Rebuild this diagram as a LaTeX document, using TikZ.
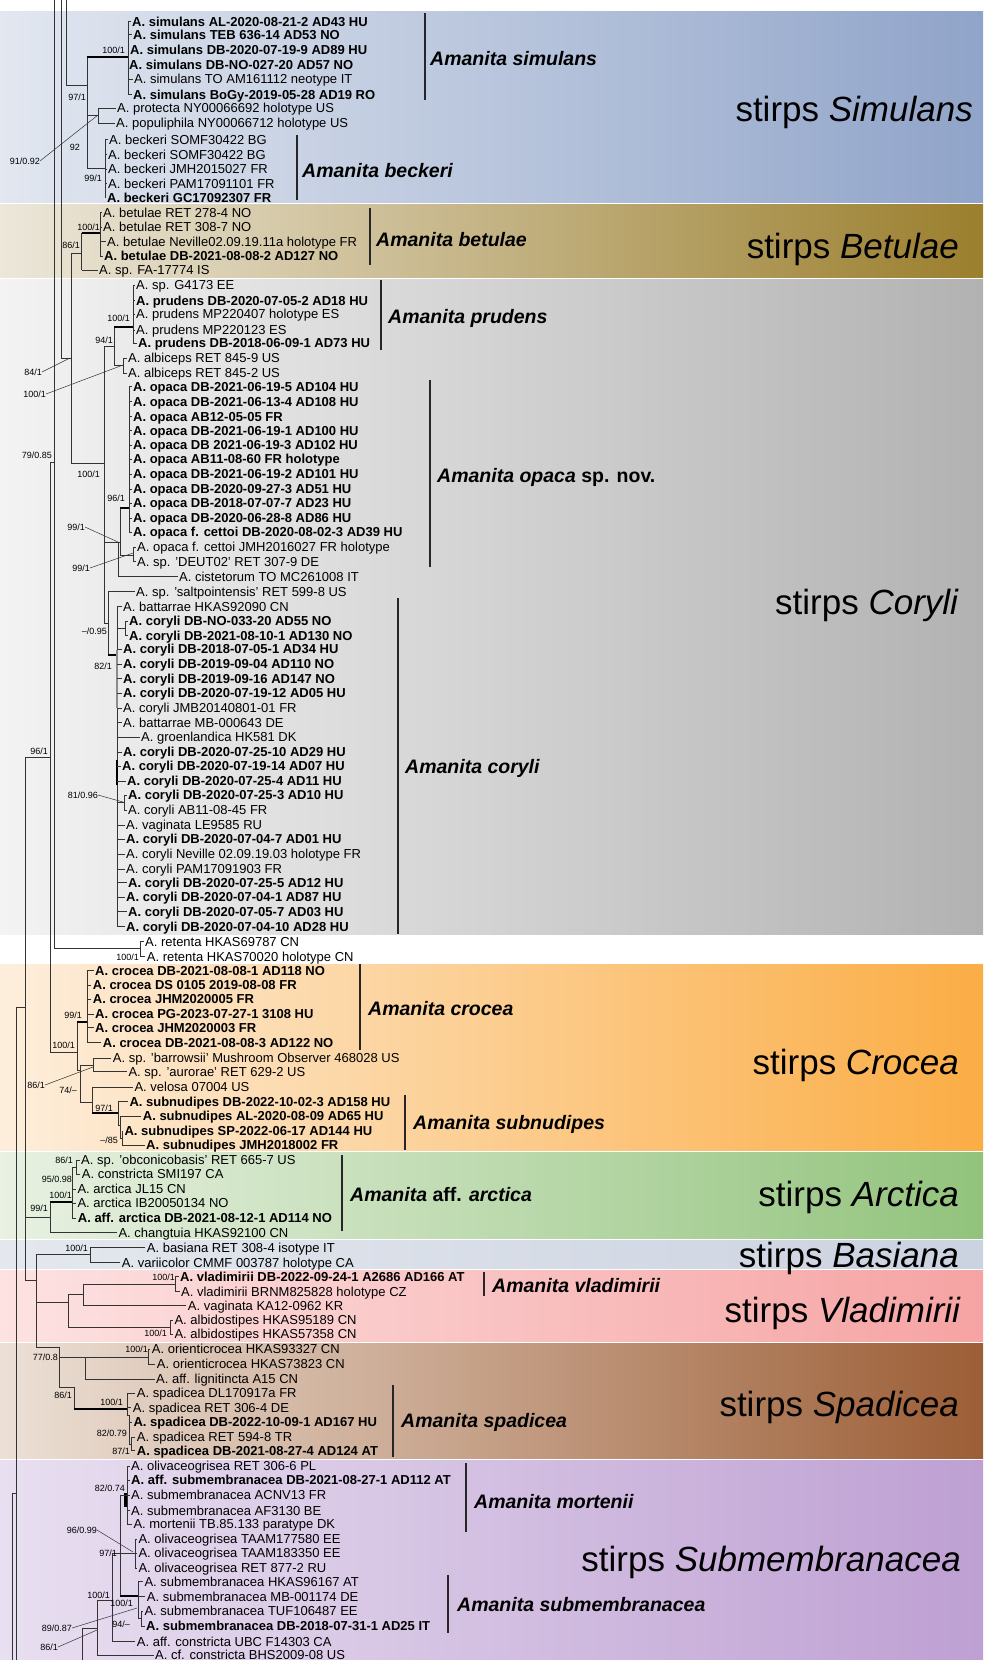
\documentclass[tikz,border=0pt]{standalone}
\usepackage{fontspec}
\setmainfont{Liberation Sans}
\usetikzlibrary{positioning}
\definecolor{simL}{RGB}{226,231,240}\definecolor{simR}{RGB}{144,164,201}
\definecolor{betL}{RGB}{236,231,218}\definecolor{betR}{RGB}{155,127,46}
\definecolor{corL}{RGB}{243,243,243}\definecolor{corR}{RGB}{178,178,178}
\definecolor{croL}{RGB}{253,238,220}\definecolor{croR}{RGB}{251,173,69}
\definecolor{arcL}{RGB}{232,241,226}\definecolor{arcR}{RGB}{146,195,124}
\definecolor{basL}{RGB}{228,232,238}\definecolor{basR}{RGB}{203,210,224}
\definecolor{vlaL}{RGB}{253,226,226}\definecolor{vlaR}{RGB}{246,163,163}
\definecolor{spaL}{RGB}{236,224,214}\definecolor{spaR}{RGB}{156,94,54}
\definecolor{subL}{RGB}{232,223,240}\definecolor{subR}{RGB}{190,160,211}
\newcommand\tipfont{\fontsize{13}{15}\selectfont}
\newcommand\bsfont{\fontsize{9}{10}\selectfont}
\newcommand\cladefont{\fontsize{19.5}{22}\selectfont\bfseries\itshape}
\newcommand\stirpsfont{\fontsize{35}{40}\selectfont}
% tip branch from a clade line to a taxon label
\newcommand\twig[2]{\draw[br] (#2.west) ++(-1.5,0) -- (#2.west -| #1);}

\begin{document}
\begin{tikzpicture}[x=1pt,y=-1pt,
  tp/.style={anchor=west, inner xsep=0pt, inner ysep=0pt, text height=10pt, text depth=1pt, font=\tipfont},
  tb/.style={tp, font=\tipfont\bfseries},
  bs/.style={anchor=east, inner sep=0pt, font=\bsfont},
  clade/.style={anchor=west, inner sep=0pt, font=\cladefont},
  stirps/.style={anchor=east, inner sep=0pt, text height=25pt, text depth=7pt, font=\stirpsfont},
  br/.style={line width=0.75pt, black!80},
  thk/.style={line width=2.6pt, black},
  bar/.style={line width=1.4pt, black!85},
  ldr/.style={line width=0.5pt, black!80}]
\useasboundingbox (0,0) rectangle (983,1660);

% colour bands
\shade[left color=simL, right color=simR] (0,11) rectangle (983,202);
\shade[left color=betL, right color=betR] (0,204) rectangle (983,277);
\shade[left color=corL, right color=corR] (0,279) rectangle (983,934);
\shade[left color=croL, right color=croR] (0,964) rectangle (983,1150);
\shade[left color=arcL, right color=arcR] (0,1152) rectangle (983,1238);
\shade[left color=basL, right color=basR] (0,1240) rectangle (983,1268);
\shade[left color=vlaL, right color=vlaR] (0,1270) rectangle (983,1341);
\shade[left color=spaL, right color=spaR] (0,1343) rectangle (983,1458);
\shade[left color=subL, right color=subR] (0,1460) rectangle (983,1660);

% stirps names
\node[stirps] (stSim) at (973,112) {stirps \textit{Simulans}};
\node[stirps] (stBet) at (959,249) {stirps \textit{Betulae}};
\node[stirps] (stCor) at (959,605) {stirps \textit{Coryli}};
\node[stirps] (stCro) at (959,1065) {stirps \textit{Crocea}};
\node[stirps] (stArc) at (959,1197) {stirps \textit{Arctica}};
\node[stirps] (stBas) at (959,1258) {stirps \textit{Basiana}};
\node[stirps] (stVla) at (961,1313) {stirps \textit{Vladimirii}};
\node[stirps] (stSpa) at (959,1407) {stirps \textit{Spadicea}};
\node[stirps] (stSub) at (961,1562) {stirps \textit{Submembranacea}};

% taxa: stirps Simulans
\node[tb] (sim1) at (132,21.7) {A. simulans AL-2020-08-21-2 AD43 HU};
\node[tb] (sim2) at (133,34.7) {A. simulans TEB 636-14 AD53 NO};
\node[tb] (sim3) at (130,50) {A. simulans DB-2020-07-19-9 AD89 HU};
\node[tb] (sim4) at (129,64.7) {A. simulans DB-NO-027-20 AD57 NO};
\node[tp] (sim5) at (134,79.3) {A. simulans TO AM161112 neotype IT};
\node[tb] (sim6) at (133,94.7) {A. simulans BoGy-2019-05-28 AD19 RO};
\node[tp] (pro) at (117,108.3) {A. protecta NY00066692 holotype US};
\node[tp] (pop) at (116,123.3) {A. populiphila NY00066712 holotype US};
\node[tp] (bec1) at (109,139.5) {A. beckeri SOMF30422 BG};
\node[tp] (bec2) at (108,154.5) {A. beckeri SOMF30422 BG};
\node[tp] (bec3) at (108,169) {A. beckeri JMH2015027 FR};
\node[tp] (bec4) at (108,183.5) {A. beckeri PAM17091101 FR};
\node[tb] (bec5) at (107,197.7) {A. beckeri GC17092307 FR};
% stirps Betulae
\node[tp] (bet1) at (103,212.7) {A. betulae RET 278-4 NO};
\node[tp] (bet2) at (103,227.3) {A. betulae RET 308-7 NO};
\node[tp] (bet3) at (107,241.7) {A. betulae Neville02.09.19.11a holotype FR};
\node[tb] (bet4) at (104,256) {A. betulae DB-2021-08-08-2 AD127 NO};
\node[tp] (fa) at (99,270) {A. sp. FA-17774 IS};
% stirps Coryli
\node[tp] (g41) at (136,285) {A. sp. G4173 EE};
\node[tb] (pru1) at (136,300.7) {A. prudens DB-2020-07-05-2 AD18 HU};
\node[tp] (pru2) at (136,314.3) {A. prudens MP220407 holotype ES};
\node[tp] (pru3) at (136,330) {A. prudens MP220123 ES};
\node[tb] (pru4) at (138,343.3) {A. prudens DB-2018-06-09-1 AD73 HU};
\node[tp] (alb1) at (128,358.3) {A. albiceps RET 845-9 US};
\node[tp] (alb2) at (128,373.3) {A. albiceps RET 845-2 US};
\node[tb] (opa1) at (133,386.7) {A. opaca DB-2021-06-19-5 AD104 HU};
\node[tb] (opa2) at (133,401.7) {A. opaca DB-2021-06-13-4 AD108 HU};
\node[tb] (opa3) at (133,416.7) {A. opaca AB12-05-05 FR};
\node[tb] (opa4) at (133,430.7) {A. opaca DB-2021-06-19-1 AD100 HU};
\node[tb] (opa5) at (133,445) {A. opaca DB 2021-06-19-3 AD102 HU};
\node[tb] (opa6) at (133,459.3) {A. opaca AB11-08-60 FR holotype};
\node[tb] (opa7) at (133,474.3) {A. opaca DB-2021-06-19-2 AD101 HU};
\node[tb] (opa8) at (133,489) {A. opaca DB-2020-09-27-3 AD51 HU};
\node[tb] (opa9) at (133,503.3) {A. opaca DB-2018-07-07-7 AD23 HU};
\node[tb] (opa10) at (133,518.3) {A. opaca DB-2020-06-28-8 AD86 HU};
\node[tb] (opa11) at (133,532.3) {A. opaca f. cettoi DB-2020-08-02-3 AD39 HU};
\node[tp] (opa12) at (137,547.3) {A. opaca f. cettoi JMH2016027 FR holotype};
\node[tp] (deut) at (137,561.7) {A. sp. 'DEUT02' RET 307-9 DE};
\node[tp] (cis) at (179,576.7) {A. cistetorum TO MC261008 IT};
\node[tp] (salt) at (136,591.7) {A. sp. 'saltpointensis' RET 599-8 US};
\node[tp] (bat1) at (123,606.7) {A. battarrae HKAS92090 CN};
\node[tb] (cor1) at (129,621) {A. coryli DB-NO-033-20 AD55 NO};
\node[tb] (cor2) at (129,635.7) {A. coryli DB-2021-08-10-1 AD130 NO};
\node[tb] (cor3) at (123,649.3) {A. coryli DB-2018-07-05-1 AD34 HU};
\node[tb] (cor4) at (123,664.3) {A. coryli DB-2019-09-04 AD110 NO};
\node[tb] (cor5) at (123,678.5) {A. coryli DB-2019-09-16 AD147 NO};
\node[tb] (cor6) at (123,693.3) {A. coryli DB-2020-07-19-12 AD05 HU};
\node[tp] (cor7) at (123,708.3) {A. coryli JMB20140801-01 FR};
\node[tp] (bat2) at (123,722.7) {A. battarrae MB-000643 DE};
\node[tp] (grl) at (141,737.3) {A. groenlandica HK581 DK};
\node[tb] (cor8) at (123,752.3) {A. coryli DB-2020-07-25-10 AD29 HU};
\node[tb] (cor9) at (122,766) {A. coryli DB-2020-07-19-14 AD07 HU};
\node[tb] (cor10) at (127,781) {A. coryli DB-2020-07-25-4 AD11 HU};
\node[tb] (cor11) at (128,795) {A. coryli DB-2020-07-25-3 AD10 HU};
\node[tp] (cor12) at (128,810) {A. coryli AB11-08-45 FR};
\node[tp] (vag1) at (126,825) {A. vaginata LE9585 RU};
\node[tb] (cor13) at (126,839.3) {A. coryli DB-2020-07-04-7 AD01 HU};
\node[tp] (cor14) at (126,854) {A. coryli Neville 02.09.19.03 holotype FR};
\node[tp] (cor15) at (126,869) {A. coryli PAM17091903 FR};
\node[tb] (cor16) at (128,882.7) {A. coryli DB-2020-07-25-5 AD12 HU};
\node[tb] (cor17) at (126,897.3) {A. coryli DB-2020-07-04-1 AD87 HU};
\node[tb] (cor18) at (128,911.7) {A. coryli DB-2020-07-05-7 AD03 HU};
\node[tb] (cor19) at (126,926.7) {A. coryli DB-2020-07-04-10 AD28 HU};
\node[tp] (ret1) at (145,941.7) {A. retenta HKAS69787 CN};
\node[tp] (ret2) at (146.7,956.7) {A. retenta HKAS70020 holotype CN};
% stirps Crocea
\node[tb] (cro1) at (95,970.7) {A. crocea DB-2021-08-08-1 AD118 NO};
\node[tb] (cro2) at (92.7,985) {A. crocea DS 0105 2019-08-08 FR};
\node[tb] (cro3) at (92.7,999.3) {A. crocea JHM2020005 FR};
\node[tb] (cro4) at (95,1014.3) {A. crocea PG-2023-07-27-1 3108 HU};
\node[tb] (cro5) at (95,1027.7) {A. crocea JHM2020003 FR};
\node[tb] (cro6) at (102.7,1042.7) {A. crocea DB-2021-08-08-3 AD122 NO};
\node[tp] (barr) at (112.7,1058.3) {A. sp. 'barrowsii' Mushroom Observer 468028 US};
\node[tp] (aur) at (128.3,1071.7) {A. sp. 'aurorae' RET 629-2 US};
\node[tp] (vel) at (134.3,1087.3) {A. velosa 07004 US};
\node[tb] (sub1) at (129.3,1101.7) {A. subnudipes DB-2022-10-02-3 AD158 HU};
\node[tb] (sub2) at (142.7,1116) {A. subnudipes AL-2020-08-09 AD65 HU};
\node[tb] (sub3) at (124.3,1131) {A. subnudipes SP-2022-06-17 AD144 HU};
\node[tb] (sub4) at (146,1145) {A. subnudipes JMH2018002 FR};
% stirps Arctica
\node[tp] (obc) at (81,1160) {A. sp. 'obconicobasis' RET 665-7 US};
\node[tp] (con1) at (81.7,1174.3) {A. constricta SMI197 CA};
\node[tp] (arc1) at (77.3,1189.3) {A. arctica JL15 CN};
\node[tp] (arc2) at (77.3,1203.3) {A. arctica IB20050134 NO};
\node[tb] (arc3) at (77.7,1218) {A. aff. arctica DB-2021-08-12-1 AD114 NO};
\node[tp] (cht) at (118.3,1232.7) {A. changtuia HKAS92100 CN};
% stirps Basiana
\node[tp] (bas) at (146.7,1247.7) {A. basiana RET 308-4 isotype IT};
\node[tp] (var) at (121.7,1262.7) {A. variicolor CMMF 003787 holotype CA};
% stirps Vladimirii
\node[tb] (vla1) at (180,1276.7) {A. vladimirii DB-2022-09-24-1 A2686 AD166 AT};
\node[tp] (vla2) at (181,1291.7) {A. vladimirii BRNM825828 holotype CZ};
\node[tp] (vag2) at (187.7,1305.7) {A. vaginata KA12-0962 KR};
\node[tp] (ald1) at (174.3,1320) {A. albidostipes HKAS95189 CN};
\node[tp] (ald2) at (174.3,1334.3) {A. albidostipes HKAS57358 CN};
% stirps Spadicea
\node[tp] (ori1) at (151.7,1349.3) {A. orienticrocea HKAS93327 CN};
\node[tp] (ori2) at (156.7,1364.3) {A. orienticrocea HKAS73823 CN};
\node[tp] (lig) at (156,1379.3) {A. aff. lignitincta A15 CN};
\node[tp] (spa1) at (136.7,1393.3) {A. spadicea DL170917a FR};
\node[tp] (spa2) at (132.7,1407.7) {A. spadicea RET 306-4 DE};
\node[tb] (spa3) at (133.3,1422.3) {A. spadicea DB-2022-10-09-1 AD167 HU};
\node[tp] (spa4) at (136.7,1437.3) {A. spadicea RET 594-8 TR};
\node[tb] (spa5) at (136.7,1450.7) {A. spadicea DB-2021-08-27-4 AD124 AT};
% stirps Submembranacea
\node[tp] (oli1) at (131,1466) {A. olivaceogrisea RET 306-6 PL};
\node[tb] (asm) at (131,1480) {A. aff. submembranacea DB-2021-08-27-1 AD112 AT};
\node[tp] (sm1) at (131,1495) {A. submembranacea ACNV13 FR};
\node[tp] (sm2) at (131,1510.7) {A. submembranacea AF3130 BE};
\node[tp] (mor) at (133.3,1524.3) {A. mortenii TB.85.133 paratype DK};
\node[tp] (oli2) at (138.3,1539.3) {A. olivaceogrisea TAAM177580 EE};
\node[tp] (oli3) at (138.3,1553.3) {A. olivaceogrisea TAAM183350 EE};
\node[tp] (oli4) at (138.3,1568.3) {A. olivaceogrisea RET 877-2 RU};
\node[tp] (sm3) at (144.3,1581.7) {A. submembranacea HKAS96167 AT};
\node[tp] (sm4) at (146.7,1596.7) {A. submembranacea MB-001174 DE};
\node[tp] (sm5) at (144.3,1611) {A. submembranacea TUF106487 EE};
\node[tb] (sm6) at (146,1626) {A. submembranacea DB-2018-07-31-1 AD25 IT};
\node[tp] (acon) at (136.7,1641.7) {A. aff. constricta UBC F14303 CA};
\node[tp] (cfc) at (155,1655) {A. cf. constricta BHS2009-08 US};

% clade lines
\coordinate (vsim) at (128,0);   \coordinate (vpro) at (98,0);    \coordinate (vbec) at (105,0);
\coordinate (vbet) at (100,0);   \coordinate (vbo) at (81.7,0);   \coordinate (vpru) at (133,0);
\coordinate (valb) at (123,0);   \coordinate (vopa) at (129,0);   \coordinate (vcet) at (133,0);
\coordinate (vm) at (118,0);     \coordinate (vq) at (108,0);     \coordinate (vcor) at (117,0);
\coordinate (vc12) at (125,0);   \coordinate (vc11) at (124,0);   \coordinate (vret) at (140,0);
\coordinate (vcro) at (87,0);    \coordinate (vbar) at (93,0);    \coordinate (vvel) at (92,0);
\coordinate (vsn) at (118,0);    \coordinate (vsn2) at (120,0);   \coordinate (vsn3) at (122,0);
\coordinate (vobc) at (76,0);    \coordinate (varc) at (72,0);    \coordinate (vcht) at (50,0);
\coordinate (vbas) at (90,0);    \coordinate (vvla) at (175,0);   \coordinate (vvag) at (83,0);
\coordinate (vald) at (170,0);   \coordinate (vori) at (148,0);   \coordinate (vlig) at (85,0);
\coordinate (vspa) at (127,0);   \coordinate (vspa2) at (129,0);  \coordinate (vspa3) at (131,0);
\coordinate (vmor) at (127,0);   \coordinate (vtaam) at (135,0);  \coordinate (vsm) at (138,0);
\coordinate (vsm2) at (141,0);   \coordinate (vacon) at (112,0);  \coordinate (vcfc) at (97,0);

% backbone
\draw[br] (54.3,0) -- (54.3,948) -- (140,948);
\draw[br] (61.5,0) -- (61.5,358) -- (71,358);
\draw[br] (66.7,0) -- (66.7,85) -- (87,85);
\draw[br] (50,462) -- (54.3,462);
\draw[br] (50,462) -- (50,1052) -- (77,1052);
\draw[br] (25,757) -- (50,757);
\draw[br] (25,757) -- (25,1280) -- (36,1280);
\draw[br] (16.7,1007) -- (25,1007);
\draw[br] (16.7,1007) -- (16.7,1660);
\draw[br] (12.7,1493) -- (16.7,1493);
\draw[br] (12.7,1493) -- (12.7,1660);

% Simulans
\draw[br] (87,57) -- (87,168);
\draw[thk] (87,57) -- (128,57);
\draw[br] (128,21.7) -- (128,94.7);
\foreach \t in {sim1,sim2,sim3,sim4,sim5,sim6} {\twig{vsim}{\t}}
\draw[br] (87,115) -- (98,115);
\draw[br] (98,108.3) -- (98,123.3);
\foreach \t in {pro,pop} {\twig{vpro}{\t}}
\draw[br] (87,168) -- (105,168);
\draw[br] (105,139.5) -- (105,197.7);
\foreach \t in {bec1,bec2,bec3,bec4,bec5} {\twig{vbec}{\t}}

% Betulae
\draw[br] (71,253) -- (71,463);
\draw[br] (71,253) -- (81.7,253);
\draw[br] (81.7,233) -- (81.7,270);
\twig{vbo}{fa}
\draw[thk] (81.7,233) -- (100,233);
\draw[br] (100,212.7) -- (100,256);
\foreach \t in {bet1,bet2,bet3,bet4} {\twig{vbet}{\t}}

% Coryli
\draw[br] (71,463) -- (104,463);
\draw[br] (104,346) -- (104,623);
\draw[br] (104,346) -- (114,346);
\draw[br] (114,327) -- (114,365);
\draw[thk] (114,327) -- (133,327);
\draw[br] (133,285) -- (133,343.3);
\foreach \t in {g41,pru1,pru2,pru3,pru4} {\twig{vpru}{\t}}
\draw[br] (114,365) -- (123,365);
\draw[br] (123,358.3) -- (123,373.3);
\foreach \t in {alb1,alb2} {\twig{valb}{\t}}
\draw[br] (104,542) -- (120,542);
\draw[br] (118,542) -- (118,577);
\twig{vm}{cis}
\draw[br] (120,508) -- (120,555);
\draw[thk] (120,508) -- (129,508);
\draw[br] (129,386.7) -- (129,532.3);
\foreach \t in {opa1,opa2,opa3,opa4,opa5,opa6,opa7,opa8,opa9,opa10,opa11} {\twig{vopa}{\t}}
\draw[br] (120,555) -- (133,555);
\draw[br] (133,547.3) -- (133,561.7);
\foreach \t in {opa12,deut} {\twig{vcet}{\t}}
\draw[br] (104,623) -- (108,623);
\draw[br] (108,591.7) -- (108,655);
\twig{vq}{salt}
\draw[thk] (108,655) -- (117,655);
\draw[br] (117,606.7) -- (117,926.7);
\draw[thk, black!45] (117,650) -- (117,708);
\draw[thk] (117,760) -- (117,785);
\foreach \t in {bat1,cor3,cor4,cor5,cor6,cor7,bat2,grl,cor8,cor9,cor10,vag1,cor13,cor14,cor15,cor16,cor17,cor18,cor19} {\twig{vcor}{\t}}
\draw[br] (117,628) -- (125,628);
\draw[br] (125,621) -- (125,635.7);
\foreach \t in {cor1,cor2} {\twig{vc12}{\t}}
\draw[br] (117,802) -- (124,802);
\draw[br] (124,795) -- (124,810);
\foreach \t in {cor11,cor12} {\twig{vc11}{\t}}
\draw[br] (140,941.7) -- (140,956.7);
\foreach \t in {ret1,ret2} {\twig{vret}{\t}}

% Crocea
\draw[br] (77,1022) -- (77,1070) -- (80,1070);
\draw[thk] (77,1022) -- (87,1022);
\draw[br] (87,970.7) -- (87,1042.7);
\foreach \t in {cro1,cro2,cro3,cro4,cro5,cro6} {\twig{vcro}{\t}}
\draw[br] (80,1065) -- (80,1102);
\draw[br] (80,1065) -- (93,1065);
\draw[br] (93,1058.3) -- (93,1071.7);
\foreach \t in {barr,aur} {\twig{vbar}{\t}}
\draw[br] (80,1102) -- (92,1102);
\draw[br] (92,1087.3) -- (92,1113);
\twig{vvel}{vel}
\draw[thk] (92,1113) -- (118,1113);
\draw[br] (118,1101.7) -- (118,1125) -- (120,1125);
\twig{vsn}{sub1}
\draw[br] (120,1116) -- (120,1138) -- (122,1138);
\twig{vsn2}{sub2}
\draw[br] (122,1131) -- (122,1145);
\foreach \t in {sub3,sub4} {\twig{vsn3}{\t}}

% Arctica
\draw[br] (25,1217) -- (50,1217);
\draw[br] (50,1202) -- (50,1233);
\twig{vcht}{cht}
\draw[thk] (50,1202) -- (72,1202);
\draw[br] (72,1167) -- (72,1218);
\foreach \t in {arc1,arc2,arc3} {\twig{varc}{\t}}
\draw[br] (72,1167) -- (76,1167);
\draw[br] (76,1160) -- (76,1174.3);
\foreach \t in {obc,con1} {\twig{vobc}{\t}}

% Basiana and Vladimirii
\draw[br] (36,1254) -- (36,1347) -- (59,1347);
\draw[br] (36,1254) -- (90,1254);
\draw[br] (90,1247.7) -- (90,1262.7);
\foreach \t in {bas,var} {\twig{vbas}{\t}}
\draw[br] (36,1302) -- (68,1302);
\draw[br] (68,1294) -- (68,1327);
\draw[br] (68,1294) -- (83,1294);
\draw[br] (83,1284) -- (83,1305.7);
\twig{vvag}{vag2}
\draw[br] (83,1284) -- (175,1284);
\draw[br] (175,1276.7) -- (175,1291.7);
\foreach \t in {vla1,vla2} {\twig{vvla}{\t}}
\draw[br] (68,1327) -- (170,1327);
\draw[br] (170,1320) -- (170,1334.3);
\foreach \t in {ald1,ald2} {\twig{vald}{\t}}

% Spadicea
\draw[br] (59,1347) -- (59,1387) -- (74,1387);
\draw[br] (59,1357) -- (85,1357);
\draw[br] (85,1357) -- (85,1379.3);
\twig{vlig}{lig}
\draw[br] (85,1357) -- (148,1357);
\draw[br] (148,1349.3) -- (148,1364.3);
\foreach \t in {ori1,ori2} {\twig{vori}{\t}}
\draw[br] (74,1387) -- (74,1409);
\draw[thk] (74,1409) -- (127,1409);
\draw[br] (127,1393.3) -- (127,1415) -- (129,1415);
\foreach \t in {spa1,spa2} {\twig{vspa}{\t}}
\draw[br] (129,1415) -- (129,1444) -- (131,1444);
\twig{vspa2}{spa3}
\draw[br] (131,1437.3) -- (131,1450.7);
\foreach \t in {spa4,spa5} {\twig{vspa3}{\t}}

% Submembranacea
\draw[br] (127,1466) -- (127,1524.3);
\foreach \t in {oli1,asm,sm1,sm2,mor} {\twig{vmor}{\t}}
\draw[thk] (125.5,1493) -- (125.5,1507);
\draw[br] (120,1495) -- (127,1495);
\draw[br] (120,1495) -- (120,1596);
\draw[br] (112,1553) -- (135,1553);
\draw[br] (135,1539.3) -- (135,1568.3);
\foreach \t in {oli2,oli3,oli4} {\twig{vtaam}{\t}}
\draw[thk] (120,1596) -- (138,1596);
\draw[br] (138,1581.7) -- (138,1618) -- (141,1618);
\foreach \t in {sm3,sm4} {\twig{vsm}{\t}}
\draw[br] (141,1611) -- (141,1626);
\foreach \t in {sm5,sm6} {\twig{vsm2}{\t}}
\draw[br] (112,1553) -- (112,1642);
\twig{vacon}{acon}
\draw[br] (97,1600) -- (112,1600);
\draw[br] (97,1600) -- (97,1655);
\twig{vcfc}{cfc}
\draw[br] (82,1628) -- (97,1628);
\draw[br] (82,1628) -- (82,1660);

% support values
\node[bs] (s1) at (125,50) {100/1};
\node[bs] (s2) at (86,97) {97/1};
\node[bs] (s3) at (40,161) {91/0.92};
\node[bs] (s4) at (80,147) {92};
\node[bs] (s5) at (102,178) {99/1};
\node[bs] (s6) at (100,227) {100/1};
\node[bs] (s7) at (80,245) {86/1};
\node[bs] (s8) at (130,318) {100/1};
\node[bs] (s9) at (113,340) {94/1};
\node[bs] (s10) at (42,372) {84/1};
\node[bs] (s11) at (46,394) {100/1};
\node[bs] (s12) at (52,455) {79/0.85};
\node[bs] (s13) at (100,474) {100/1};
\node[bs] (s14) at (125,498) {96/1};
\node[bs] (s15) at (85,527) {99/1};
\node[bs] (s16) at (90,568) {99/1};
\node[bs] (s17) at (107,631) {–/0.95};
\node[bs] (s18) at (112,666) {82/1};
\node[bs] (s19) at (48,751) {96/1};
\node[bs] (s20) at (98,795) {81/0.96};
\node[bs] (s21) at (139,957) {100/1};
\node[bs] (s22) at (82,1015) {99/1};
\node[bs] (s23) at (75,1045) {100/1};
\node[bs] (s24) at (45,1085) {86/1};
\node[bs] (s25) at (77,1090) {74/–};
\node[bs] (s26) at (113,1108) {97/1};
\node[bs] (s27) at (118,1140) {–/85};
\node[bs] (s28) at (73,1160) {86/1};
\node[bs] (s29) at (72,1179) {95/0.98};
\node[bs] (s30) at (72,1195) {100/1};
\node[bs] (s31) at (48,1208) {99/1};
\node[bs] (s32) at (88,1248) {100/1};
\node[bs] (s33) at (175,1277) {100/1};
\node[bs] (s34) at (167,1333) {100/1};
\node[bs] (s35) at (148,1349) {100/1};
\node[bs] (s36) at (58,1357) {77/0.8};
\node[bs] (s37) at (72,1395) {86/1};
\node[bs] (s38) at (123,1402) {100/1};
\node[bs] (s39) at (127,1433) {82/0.79};
\node[bs] (s40) at (130,1451) {87/1};
\node[bs] (s41) at (125,1488) {82/0.74};
\node[bs] (s42) at (97,1530) {96/0.99};
\node[bs] (s43) at (117,1553) {97/1};
\node[bs] (s44) at (110,1595) {100/1};
\node[bs] (s45) at (133,1603) {100/1};
\node[bs] (s46) at (130,1624) {94/–};
\node[bs] (s47) at (72,1628) {89/0.87};
\node[bs] (s48) at (58,1647) {86/1};
% leaders
\draw[ldr] (s3.east) -- (98,115);
\draw[ldr] (s10.east) -- (70,358);
\draw[ldr] (s11.east) -- (123,365);
\draw[ldr] (s15.east) -- (118,542);
\draw[ldr] (s16.east) -- (133,553);
\draw[ldr] (s20.east) -- (123,802);
\draw[ldr] (s24.east) -- (93,1067);
\draw[ldr] (s42.east) -- (133,1552);
\draw[ldr] (s47.east) -- (137,1608);
\draw[ldr] (s48.east) -- (97,1630);

% clade bars and names
\draw[bar] (425,13) -- (425,100);
\node[clade] (cSim) at (430,58.5) {Amanita simulans};
\draw[bar] (297,135) -- (297,200);
\node[clade] (cBec) at (302,170.5) {Amanita beckeri};
\draw[bar] (370,208) -- (370,265);
\node[clade] (cBet) at (376,239.5) {Amanita betulae};
\draw[bar] (381,280) -- (381,350);
\node[clade] (cPru) at (388,318.5) {Amanita prudens};
\draw[bar] (430,380) -- (430,567);
\node[clade] (cOpa) at (437,477.5) {Amanita opaca \textup{sp. nov.}};
\draw[bar] (398,598) -- (398,934);
\node[clade] (cCor) at (405,768.5) {Amanita coryli};
\draw[bar] (360,964) -- (360,1050);
\node[clade] (cCro) at (368,1008.5) {Amanita crocea};
\draw[bar] (405,1095) -- (405,1150);
\node[clade] (cSub) at (413,1124.5) {Amanita subnudipes};
\draw[bar] (342,1155) -- (342,1231);
\node[clade] (cArc) at (350,1194.5) {Amanita \textup{aff.} arctica};
\draw[bar] (484,1272) -- (484,1296);
\node[clade] (cVla) at (492,1285.5) {Amanita vladimirii};
\draw[bar] (393,1385) -- (393,1457);
\node[clade] (cSpa) at (401,1422.5) {Amanita spadicea};
\draw[bar] (466,1463) -- (466,1532);
\node[clade] (cMor) at (474,1501.5) {Amanita mortenii};
\draw[bar] (448,1575) -- (448,1633);
\node[clade] (cSmb) at (457,1604.5) {Amanita submembranacea};
\end{tikzpicture}
\end{document}
